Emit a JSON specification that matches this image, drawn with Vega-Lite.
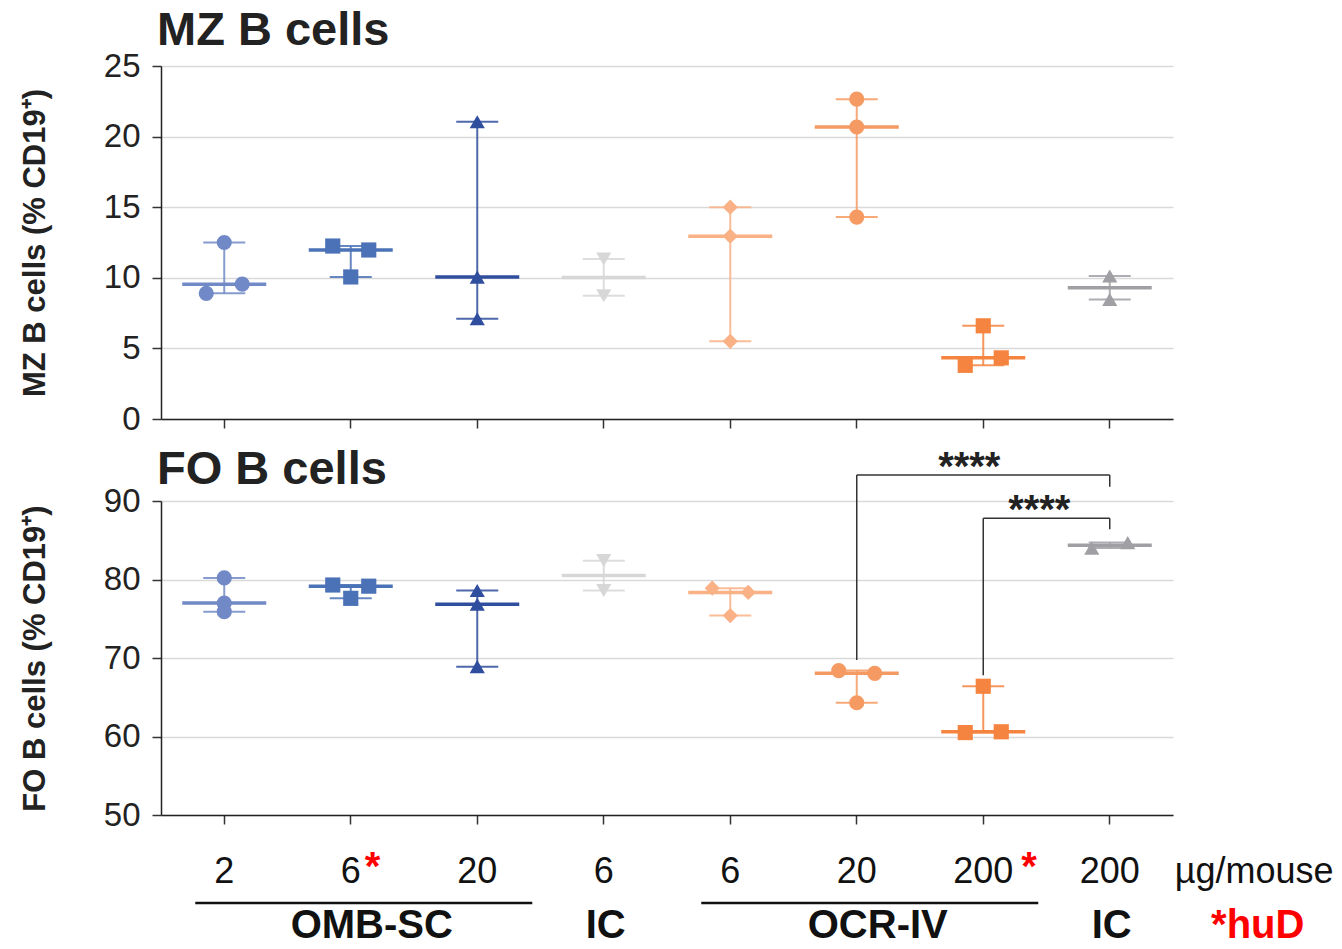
{
  "$schema": "https://vega.github.io/schema/vega-lite/v6.json",
  "background": "white",
  "padding": {"left": 19, "top": 7, "right": 2, "bottom": 0},
  "spacing": 10,
  "config": {
    "view": {"stroke": null},
    "font": "Liberation Sans",
    "axisX": {"domainColor": "#222", "domainWidth": 1.5, "tickColor": "#333", "tickWidth": 1.5, "tickSize": 9, "gridColor": "#d9d9d9", "gridWidth": 1.5, "labels": false, "title": null, "bandPosition": 0.5},
    "axisY": {"domainColor": "#222", "domainWidth": 1.5, "tickColor": "#333", "tickWidth": 1.5, "tickSize": 9, "gridColor": "#d9d9d9", "gridWidth": 1.5, "labelFont": "Liberation Sans", "labelFontSize": 33, "labelColor": "#222", "labelPadding": 12, "titleFont": "Liberation Sans", "titleFontSize": 31, "titleFontWeight": "bold", "titleColor": "#222", "titlePadding": 52},
    "title": {"font": "Liberation Sans", "fontSize": 47, "fontWeight": "bold", "color": "#222", "anchor": "start", "frame": "group", "dx": -4, "baseline": "alphabetic"}
  },
  "datasets": {
    "cells": [
      {"panel": "MZ", "group": "OMB 2", "v": 12.5, "j": 0},
      {"panel": "MZ", "group": "OMB 2", "v": 8.9, "j": -1},
      {"panel": "MZ", "group": "OMB 2", "v": 9.55, "j": 1},
      {"panel": "MZ", "group": "OMB 6", "v": 12.25, "j": -1},
      {"panel": "MZ", "group": "OMB 6", "v": 11.97, "j": 1},
      {"panel": "MZ", "group": "OMB 6", "v": 10.06, "j": 0},
      {"panel": "MZ", "group": "OMB 20", "v": 21.05, "j": 0},
      {"panel": "MZ", "group": "OMB 20", "v": 10.05, "j": 0},
      {"panel": "MZ", "group": "OMB 20", "v": 7.1, "j": 0},
      {"panel": "MZ", "group": "IC 6", "v": 11.33, "j": 0},
      {"panel": "MZ", "group": "IC 6", "v": 8.73, "j": 0},
      {"panel": "MZ", "group": "OCR 6", "v": 15.0, "j": 0},
      {"panel": "MZ", "group": "OCR 6", "v": 12.95, "j": 0},
      {"panel": "MZ", "group": "OCR 6", "v": 5.5, "j": 0},
      {"panel": "MZ", "group": "OCR 20", "v": 22.65, "j": 0},
      {"panel": "MZ", "group": "OCR 20", "v": 20.68, "j": 0},
      {"panel": "MZ", "group": "OCR 20", "v": 14.3, "j": 0},
      {"panel": "MZ", "group": "OCR 200", "v": 6.6, "j": 0},
      {"panel": "MZ", "group": "OCR 200", "v": 3.8, "j": -1},
      {"panel": "MZ", "group": "OCR 200", "v": 4.33, "j": 1},
      {"panel": "MZ", "group": "IC 200", "v": 10.13, "j": 0},
      {"panel": "MZ", "group": "IC 200", "v": 8.46, "j": 0},
      {"panel": "FO", "group": "OMB 2", "v": 80.2, "j": 0},
      {"panel": "FO", "group": "OMB 2", "v": 77.0, "j": 0},
      {"panel": "FO", "group": "OMB 2", "v": 75.9, "j": 0},
      {"panel": "FO", "group": "OMB 6", "v": 79.3, "j": -1},
      {"panel": "FO", "group": "OMB 6", "v": 79.15, "j": 1},
      {"panel": "FO", "group": "OMB 6", "v": 77.6, "j": 0},
      {"panel": "FO", "group": "OMB 20", "v": 78.6, "j": 0},
      {"panel": "FO", "group": "OMB 20", "v": 76.85, "j": 0},
      {"panel": "FO", "group": "OMB 20", "v": 68.9, "j": 0},
      {"panel": "FO", "group": "IC 6", "v": 82.4, "j": 0},
      {"panel": "FO", "group": "IC 6", "v": 78.6, "j": 0},
      {"panel": "FO", "group": "OCR 6", "v": 78.9, "j": -1},
      {"panel": "FO", "group": "OCR 6", "v": 78.35, "j": 1},
      {"panel": "FO", "group": "OCR 6", "v": 75.4, "j": 0},
      {"panel": "FO", "group": "OCR 20", "v": 68.4, "j": -1},
      {"panel": "FO", "group": "OCR 20", "v": 68.05, "j": 1},
      {"panel": "FO", "group": "OCR 20", "v": 64.3, "j": 0},
      {"panel": "FO", "group": "OCR 200", "v": 66.4, "j": 0},
      {"panel": "FO", "group": "OCR 200", "v": 60.5, "j": -1},
      {"panel": "FO", "group": "OCR 200", "v": 60.6, "j": 1},
      {"panel": "FO", "group": "IC 200", "v": 84.0, "j": -1},
      {"panel": "FO", "group": "IC 200", "v": 84.7, "j": 1}
    ],
    "brackets": [
      {"from": "OCR 20", "to": "IC 200", "yTop": 93.3, "yL": 69.75, "yR": 91.8, "label": "****"},
      {"from": "OCR 200", "to": "IC 200", "yTop": 87.8, "yL": 67.8, "yR": 86.4, "label": "****"}
    ],
    "doses": [
      {"group": "OMB 2", "dose": "2"},
      {"group": "OMB 6", "dose": "6"},
      {"group": "OMB 20", "dose": "20"},
      {"group": "IC 6", "dose": "6"},
      {"group": "OCR 6", "dose": "6"},
      {"group": "OCR 20", "dose": "20"},
      {"group": "OCR 200", "dose": "200"},
      {"group": "IC 200", "dose": "200"}
    ],
    "arms": [
      {"from": "OMB 2", "to": "OMB 20", "mid": "OMB 6", "name": "OMB-SC"},
      {"from": "OCR 6", "to": "OCR 200", "mid": "OCR 20", "name": "OCR-IV"}
    ],
    "ics": [
      {"group": "IC 6", "name": "IC"},
      {"group": "IC 200", "name": "IC"}
    ]
  },
  "vconcat": [
    {
      "width": 1012,
      "height": 353,
      "title": {"text": "MZ B cells", "offset": -5},
      "data": {"name": "cells"},
      "transform": [{"filter": "datum.panel === 'MZ'"}],
      "encoding": {
        "x": {"field": "group", "type": "nominal", "scale": {"type": "band", "domain": ["OMB 2", "OMB 6", "OMB 20", "IC 6", "OCR 6", "OCR 20", "OCR 200", "IC 200"], "paddingInner": 0, "paddingOuter": 0}, "axis": {}},
        "color": {"field": "group", "type": "nominal", "legend": null, "scale": {"domain": ["OMB 2", "OMB 6", "OMB 20", "IC 6", "OCR 6", "OCR 20", "OCR 200", "IC 200"], "range": ["#7189c6", "#4b72b6", "#2f4e9e", "#d7d7d7", "#f9b185", "#f59a62", "#f4843f", "#a0a0a4"]}}
      },
      "layer": [
        {"mark": {"type": "rule", "strokeWidth": 2, "opacity": 0.85},
         "encoding": {"y": {"aggregate": "min", "field": "v", "type": "quantitative", "scale": {"domain": [0, 25], "nice": false, "zero": true}, "axis": {"values": [0, 5, 10, 15, 20, 25], "title": "MZ B cells (% CD19⁺)"}}, "y2": {"aggregate": "max", "field": "v"}}},
        {"mark": {"type": "tick", "size": 42, "thickness": 2, "opacity": 0.85},
         "encoding": {"y": {"aggregate": "min", "field": "v", "type": "quantitative"}}},
        {"mark": {"type": "tick", "size": 42, "thickness": 2, "opacity": 0.85},
         "encoding": {"y": {"aggregate": "max", "field": "v", "type": "quantitative"}}},
        {"mark": {"type": "tick", "size": 84, "thickness": 3.5},
         "encoding": {"y": {"aggregate": "median", "field": "v", "type": "quantitative"}}},
        {"mark": {"type": "point", "filled": true, "opacity": 1, "size": 230},
         "encoding": {
           "y": {"field": "v", "type": "quantitative"},
           "xOffset": {"field": "j", "type": "quantitative", "scale": {"domain": [-1, 1], "range": [45.25, 81.25]}},
           "shape": {"field": "group", "type": "nominal", "legend": null, "scale": {"domain": ["OMB 2", "OMB 6", "OMB 20", "IC 6", "OCR 6", "OCR 20", "OCR 200", "IC 200"], "range": ["circle", "square", "triangle-up", "triangle-down", "diamond", "circle", "square", "triangle-up"]}}
         }}
      ]
    },
    {
      "width": 1012,
      "height": 314,
      "title": {"text": "FO B cells", "offset": 6, "dy": 52},
      "encoding": {
        "x": {"field": "group", "type": "nominal", "scale": {"type": "band", "domain": ["OMB 2", "OMB 6", "OMB 20", "IC 6", "OCR 6", "OCR 20", "OCR 200", "IC 200"], "paddingInner": 0, "paddingOuter": 0}, "axis": {}}
      },
      "layer": [
        {"data": {"name": "cells"}, "transform": [{"filter": "datum.panel === 'FO'"}],
         "mark": {"type": "rule", "strokeWidth": 2, "opacity": 0.85},
         "encoding": {"y": {"aggregate": "min", "field": "v", "type": "quantitative", "scale": {"domain": [50, 90], "nice": false, "zero": false}, "axis": {"values": [50, 60, 70, 80, 90], "title": "FO B cells (% CD19⁺)"}}, "y2": {"aggregate": "max", "field": "v"},
           "color": {"field": "group", "type": "nominal", "legend": null, "scale": {"domain": ["OMB 2", "OMB 6", "OMB 20", "IC 6", "OCR 6", "OCR 20", "OCR 200", "IC 200"], "range": ["#7189c6", "#4b72b6", "#2f4e9e", "#d7d7d7", "#f9b185", "#f59a62", "#f4843f", "#8a8a8a"]}}}},
        {"data": {"name": "cells"}, "transform": [{"filter": "datum.panel === 'FO'"}],
         "mark": {"type": "tick", "size": 42, "thickness": 2, "opacity": 0.85},
         "encoding": {"y": {"aggregate": "min", "field": "v", "type": "quantitative"}, "color": {"field": "group", "type": "nominal"}}},
        {"data": {"name": "cells"}, "transform": [{"filter": "datum.panel === 'FO'"}],
         "mark": {"type": "tick", "size": 42, "thickness": 2, "opacity": 0.85},
         "encoding": {"y": {"aggregate": "max", "field": "v", "type": "quantitative"}, "color": {"field": "group", "type": "nominal"}}},
        {"data": {"name": "cells"}, "transform": [{"filter": "datum.panel === 'FO'"}],
         "mark": {"type": "tick", "size": 84, "thickness": 3.5},
         "encoding": {"y": {"aggregate": "median", "field": "v", "type": "quantitative"}, "color": {"field": "group", "type": "nominal"}}},
        {"data": {"name": "cells"}, "transform": [{"filter": "datum.panel === 'FO'"}],
         "mark": {"type": "point", "filled": true, "opacity": 1, "size": 230},
         "encoding": {
           "y": {"field": "v", "type": "quantitative"},
           "color": {"field": "group", "type": "nominal"},
           "xOffset": {"field": "j", "type": "quantitative", "scale": {"domain": [-1, 1], "range": [45.25, 81.25]}},
           "shape": {"field": "group", "type": "nominal", "legend": null, "scale": {"domain": ["OMB 2", "OMB 6", "OMB 20", "IC 6", "OCR 6", "OCR 20", "OCR 200", "IC 200"], "range": ["circle", "square", "triangle-up", "triangle-down", "diamond", "circle", "square", "triangle-up"]}}
         }},
        {"data": {"name": "brackets"},
         "mark": {"type": "rule", "strokeWidth": 1.5, "color": "#333"},
         "encoding": {"x": {"field": "from", "type": "nominal"}, "x2": {"field": "to"}, "y": {"field": "yTop", "type": "quantitative"}}},
        {"data": {"name": "brackets"},
         "mark": {"type": "rule", "strokeWidth": 1.5, "color": "#333"},
         "encoding": {"x": {"field": "from", "type": "nominal"}, "y": {"field": "yL", "type": "quantitative"}, "y2": {"field": "yTop"}}},
        {"data": {"name": "brackets"},
         "mark": {"type": "rule", "strokeWidth": 1.5, "color": "#333"},
         "encoding": {"x": {"field": "to", "type": "nominal"}, "y": {"field": "yR", "type": "quantitative"}, "y2": {"field": "yTop"}}},
        {"data": {"name": "brackets"}, "transform": [{"filter": "datum.from === 'OCR 20'"}],
         "mark": {"type": "text", "font": "Liberation Sans", "fontSize": 40, "fontWeight": "bold", "color": "#222", "align": "center", "baseline": "alphabetic", "dx": -14, "dy": 5},
         "encoding": {"x": {"datum": "OCR 200"}, "y": {"field": "yTop", "type": "quantitative"}, "text": {"field": "label"}}},
        {"data": {"name": "brackets"}, "transform": [{"filter": "datum.from === 'OCR 200'"}],
         "mark": {"type": "text", "font": "Liberation Sans", "fontSize": 40, "fontWeight": "bold", "color": "#222", "align": "center", "baseline": "alphabetic", "dx": 56, "dy": 5},
         "encoding": {"x": {"datum": "OCR 200"}, "y": {"field": "yTop", "type": "quantitative"}, "text": {"field": "label"}}},
        {"data": {"name": "doses"},
         "mark": {"type": "text", "font": "Liberation Sans", "fontSize": 36, "color": "#111", "align": "center", "baseline": "middle"},
         "encoding": {"x": {"field": "group", "type": "nominal"}, "y": {"datum": 42.7}, "text": {"field": "dose"}}},
        {"data": {"name": "doses"}, "transform": [{"filter": "datum.group === 'OMB 6'"}],
         "mark": {"type": "text", "font": "Liberation Sans", "fontSize": 40, "fontWeight": "bold", "color": "#ff0000", "align": "left", "baseline": "middle", "dx": 14, "dy": -4},
         "encoding": {"x": {"field": "group", "type": "nominal"}, "y": {"datum": 42.7}, "text": {"value": "*"}}},
        {"data": {"name": "doses"}, "transform": [{"filter": "datum.group === 'OCR 200'"}],
         "mark": {"type": "text", "font": "Liberation Sans", "fontSize": 40, "fontWeight": "bold", "color": "#ff0000", "align": "left", "baseline": "middle", "dx": 38, "dy": -4},
         "encoding": {"x": {"field": "group", "type": "nominal"}, "y": {"datum": 42.7}, "text": {"value": "*"}}},
        {"data": {"name": "doses"}, "transform": [{"filter": "datum.group === 'IC 200'"}],
         "mark": {"type": "text", "font": "Liberation Sans", "fontSize": 36, "color": "#111", "align": "left", "baseline": "middle", "dx": 65},
         "encoding": {"x": {"field": "group", "type": "nominal"}, "y": {"datum": 42.7}, "text": {"value": "µg/mouse"}}},
        {"data": {"name": "arms"},
         "mark": {"type": "rule", "strokeWidth": 2.5, "color": "#111", "xOffset": -29, "x2Offset": 55},
         "encoding": {"x": {"field": "from", "type": "nominal"}, "x2": {"field": "to"}, "y": {"datum": 38.8}}},
        {"data": {"name": "arms"},
         "mark": {"type": "text", "font": "Liberation Sans", "fontSize": 40, "fontWeight": "bold", "color": "#111", "align": "center", "baseline": "alphabetic", "dx": 21},
         "encoding": {"x": {"field": "mid", "type": "nominal"}, "y": {"datum": 34.3}, "text": {"field": "name"}}},
        {"data": {"name": "ics"},
         "mark": {"type": "text", "font": "Liberation Sans", "fontSize": 40, "fontWeight": "bold", "color": "#111", "align": "center", "baseline": "alphabetic", "dx": 2},
         "encoding": {"x": {"field": "group", "type": "nominal"}, "y": {"datum": 34.3}, "text": {"field": "name"}}},
        {"data": {"name": "ics"}, "transform": [{"filter": "datum.group === 'IC 200'"}],
         "mark": {"type": "text", "font": "Liberation Sans", "fontSize": 40, "fontWeight": "bold", "color": "#ff0000", "align": "center", "baseline": "alphabetic", "dx": 148},
         "encoding": {"x": {"field": "group", "type": "nominal"}, "y": {"datum": 34.3}, "text": {"value": "*huD"}}}
      ]
    }
  ]
}
